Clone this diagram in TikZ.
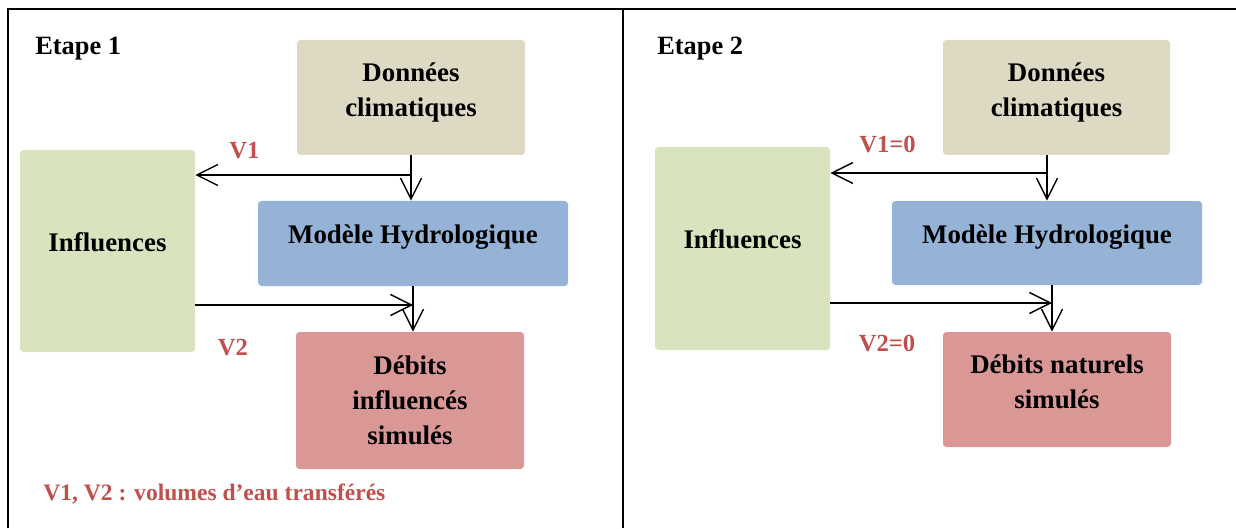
\documentclass[tikz,border=0pt]{standalone}
\usepackage{fontspec}
\setmainfont{Liberation Serif}
\usepackage{tikz}
\usetikzlibrary{arrows.meta,positioning}
\definecolor{donnees}{HTML}{DDD9C3}
\definecolor{influ}{HTML}{D7E4BD}
\definecolor{modele}{HTML}{95B3D7}
\definecolor{debits}{HTML}{D99795}
\definecolor{vred}{HTML}{C0504D}
\newcommand{\boxfont}{\fontsize{15.3}{19.8}\selectfont\bfseries}
\newcommand{\redfont}{\fontsize{14}{16}\selectfont\bfseries}
\tikzset{
  panelbox/.style={rounded corners=2pt, inner sep=0pt},
  txt/.style={font=\boxfont, align=center, text=black, inner sep=0pt},
  vlab/.style={font=\redfont, text=vred, inner sep=0pt},
  flow/.style={-{Straight Barb[length=4.2mm,width=4.2mm]}, line width=0.8pt, black}
}

\begin{document}
\begin{tikzpicture}
  \useasboundingbox (0,0) rectangle (24.72,10.56);
  % table frame
  \draw[line width=1.3pt] (0.16,0) |- (24.72,10.38);
  \draw[line width=1.3pt] (12.46,0) -- (12.46,10.38);

  % Etape 1
  \node[font=\fontsize{15}{18}\selectfont\bfseries, anchor=base west, inner sep=0pt] (et1) at (0.70,9.46) {Etape 1};
  \node[panelbox, fill=donnees, minimum width=4.56cm, minimum height=2.30cm,
        label={[txt, anchor=north, yshift=-0.46cm]north:Données\\climatiques}] (don1) at (8.22,8.61) {};
  \node[panelbox, fill=influ, minimum width=3.50cm, minimum height=4.04cm,
        label={[txt, yshift=0.18cm]center:Influences}] (inf1) at (2.15,5.54) {};
  \node[panelbox, fill=modele, minimum width=6.20cm, minimum height=1.70cm,
        label={[txt, anchor=north, yshift=-0.48cm]north:Modèle Hydrologique}] (mod1) at (8.26,5.69) {};
  \node[panelbox, fill=debits, minimum width=4.56cm, minimum height=2.74cm,
        label={[txt, anchor=north, yshift=-0.48cm]north:Débits\\influencés\\simulés}] (deb1) at (8.20,2.55) {};
  \coordinate (v1a) at (8.22,7.06);
  \coordinate (v2b) at (8.26,4.46);
  \draw[flow] (don1.south) -- (don1.south |- mod1.north);
  \draw[flow] (v1a) -- (v1a -| inf1.east);
  \draw[flow] (mod1.south) -- (mod1.south |- deb1.north);
  \draw[flow] (inf1.east |- v2b) -- (v2b);
  \node[vlab] (v1) at (4.89,7.54) {V1};
  \node[vlab] (v2) at (4.66,3.60) {V2};
  \node[vlab, font=\fontsize{13.4}{16}\selectfont\bfseries, anchor=west] (leg) at (0.86,0.68) {V1, V2 : volumes d’eau transférés};

  % Etape 2
  \node[font=\fontsize{15}{18}\selectfont\bfseries, anchor=base west, inner sep=0pt] (et2) at (13.14,9.46) {Etape 2};
  \node[panelbox, fill=donnees, minimum width=4.54cm, minimum height=2.30cm,
        label={[txt, anchor=north, yshift=-0.46cm]north:Données\\climatiques}] (don2) at (21.13,8.61) {};
  \node[panelbox, fill=influ, minimum width=3.50cm, minimum height=4.06cm,
        label={[txt, yshift=0.18cm]center:Influences}] (inf2) at (14.85,5.59) {};
  \node[panelbox, fill=modele, minimum width=6.20cm, minimum height=1.68cm,
        label={[txt, anchor=north, yshift=-0.48cm]north:Modèle Hydrologique}] (mod2) at (20.94,5.70) {};
  \node[panelbox, fill=debits, minimum width=4.56cm, minimum height=2.30cm,
        label={[txt, anchor=north, yshift=-0.46cm]north:Débits naturels\\simulés}] (deb2) at (21.14,2.77) {};
  \coordinate (v1c) at (20.94,7.10);
  \coordinate (v2d) at (21.04,4.50);
  \draw[flow] (mod2.north |- don2.south) -- (mod2.north);
  \draw[flow] (v1c) -- (v1c -| inf2.east);
  \draw[flow] (mod2.south -| v2d) -- (deb2.north -| v2d);
  \draw[flow] (inf2.east |- v2d) -- (v2d);
  \node[vlab] (v3) at (17.75,7.66) {V1=0};
  \node[vlab] (v4) at (17.74,3.68) {V2=0};
\end{tikzpicture}
\end{document}
